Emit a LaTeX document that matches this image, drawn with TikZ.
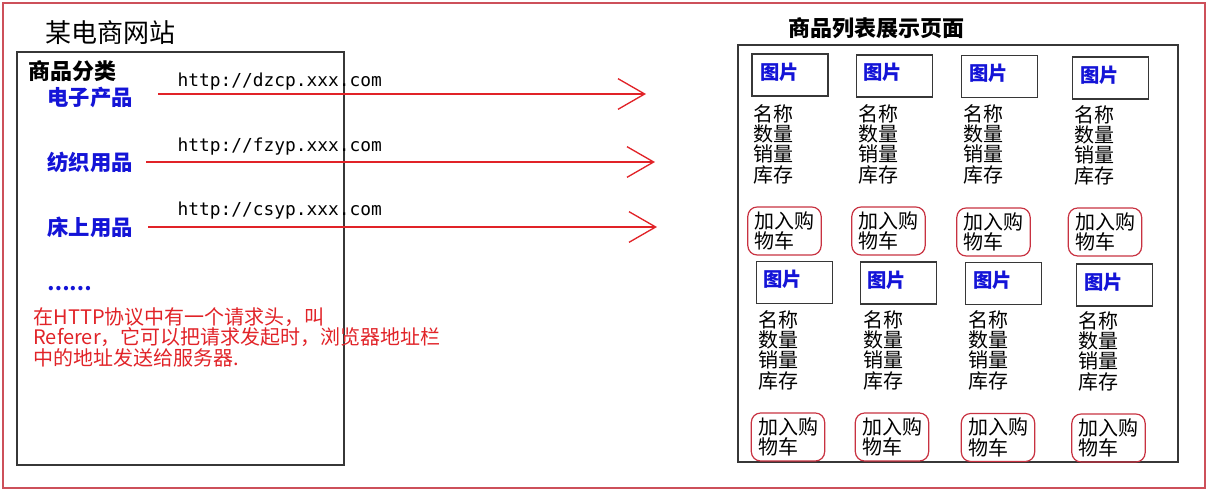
\documentclass[tikz,border=0pt]{standalone}
\usepackage{fontspec}
\setmainfont{Noto Sans CJK SC}
\newfontfamily\urlfont{DejaVu Sans Mono}
\usetikzlibrary{arrows.meta}
\definecolor{framered}{RGB}{205,80,90}
\definecolor{arrowred}{RGB}{225,35,40}
\definecolor{catblue}{RGB}{20,20,215}
\definecolor{boxgray}{RGB}{55,55,55}
\definecolor{cartred}{RGB}{200,50,65}
\tikzset{every picture/.style={line width=0.75pt}}
\tikzset{
  catlabel/.style={text=catblue, font=\fontsize{16}{18}\selectfont\bfseries, inner sep=0pt, anchor=west},
  urllabel/.style={font=\urlfont\fontsize{13.4}{15}\selectfont, inner sep=0pt, anchor=west},
  linkarrow/.style={draw=arrowred, line width=1pt, -{Straight Barb[length=20pt,width=23pt]}},
  picbox/.style={draw=boxgray, line width=1.2pt, minimum width=57pt, minimum height=31.5pt, inner sep=0pt},
  pictext/.style={text=catblue, font=\fontsize{14.5}{16}\selectfont\bfseries, inner sep=0pt, anchor=west},
  infotext/.style={font=\fontsize{15}{15.2}\selectfont, align=left, inner sep=0pt, anchor=north west},
  cartbtn/.style={draw=cartred, line width=0.9pt, rounded corners=7pt, minimum width=55pt, minimum height=36pt, font=\fontsize{15}{15.5}\selectfont, align=left, inner sep=2pt},
}

\begin{document}
\begin{tikzpicture}[x=0.75pt,y=0.75pt,yscale=-1,xscale=1]
\useasboundingbox (0,0) rectangle (1208,491);

%Shape: Rectangle [outer frame]
\draw [framered, line width=1.5pt] (3,3) rectangle (1205,488);

% Text Node
\node [font=\fontsize{19.5}{21}\selectfont, anchor=west, inner sep=0pt] (site) at (45,33) {某电商网站};
%Shape: Rectangle [site page]
\draw [boxgray, line width=1.2pt] (17,52) rectangle (344,465);

% Text Node
\node [font=\fontsize{16.5}{18}\selectfont\bfseries, anchor=west, inner sep=0pt] (catalog) at (28,71) {商品分类};
% Text Node
\node [catlabel] (cat1) at (47,97) {电子产品};
\node [catlabel] (cat2) at (47,162) {纺织用品};
\node [catlabel] (cat3) at (47,227) {床上用品};
% Text Node
\node [urllabel] (url1) at (177,82) {http://dzcp.xxx.com};
\node [urllabel] (url2) at (177,147) {http://fzyp.xxx.com};
\node [urllabel] (url3) at (177,211) {http://csyp.xxx.com};

%Straight Lines
\coordinate (tip1) at (646,94);
\coordinate (tip2) at (655,162);
\coordinate (tip3) at (657,227);
\draw [linkarrow] ([xshift=18.75pt]cat1.east |- tip1) -- (tip1);
\draw [linkarrow] ([xshift=9.75pt]cat2.east |- tip2) -- (tip2);
\draw [linkarrow] ([xshift=11.25pt]cat3.east |- tip3) -- (tip3);

% Text Node
\node [text=catblue, font=\fontsize{15}{15}\selectfont\bfseries, anchor=west, inner sep=0pt] (more) at (47,289) {……};
% Text Node
\node [text=arrowred, font=\fontsize{15}{15.4}\selectfont, align=left, anchor=north west, inner sep=0pt] (note) at (33,307) {在HTTP协议中有一个请求头，叫\\Referer，它可以把请求发起时，浏览器地址栏\\中的地址发送给服务器.};

% Text Node
\node [font=\fontsize{16.5}{18}\selectfont\bfseries, anchor=west, inner sep=0pt] (listtitle) at (788,28) {商品列表展示页面};
%Shape: Rectangle [list page]
\draw [boxgray, line width=1.2pt] (738,45) rectangle (1178,462);

%Row 1
\node [picbox] (pic11) at (790,75) {};
\node [picbox] (pic12) at (894.5,76) {};
\node [picbox] (pic13) at (999.5,76.5) {};
\node [picbox] (pic14) at (1110.5,78) {};
\node [pictext] (pt11) at (760,72) {图片};
\node [pictext] (pt12) at (863,72) {图片};
\node [pictext] (pt13) at (969,73) {图片};
\node [pictext] (pt14) at (1080,75) {图片};
\node [infotext] (info11) at (753,104) {名称\\数量\\销量\\库存};
\node [infotext] (info12) at (858,104) {名称\\数量\\销量\\库存};
\node [infotext] (info13) at (963,104) {名称\\数量\\销量\\库存};
\node [infotext] (info14) at (1074,105) {名称\\数量\\销量\\库存};
\node [cartbtn] (cart11) at (784.5,231) {加入购\\物车};
\node [cartbtn] (cart12) at (888.5,231) {加入购\\物车};
\node [cartbtn] (cart13) at (993.5,232) {加入购\\物车};
\node [cartbtn] (cart14) at (1105,232) {加入购\\物车};

%Row 2
\node [picbox] (pic21) at (794.5,282.5) {};
\node [picbox] (pic22) at (898.5,283) {};
\node [picbox] (pic23) at (1003.5,283.5) {};
\node [picbox] (pic24) at (1114.5,285) {};
\node [pictext] (pt21) at (763,279) {图片};
\node [pictext] (pt22) at (867,280) {图片};
\node [pictext] (pt23) at (973,280) {图片};
\node [pictext] (pt24) at (1084,282) {图片};
\node [infotext] (info21) at (758,310) {名称\\数量\\销量\\库存};
\node [infotext] (info22) at (863,310) {名称\\数量\\销量\\库存};
\node [infotext] (info23) at (968,310) {名称\\数量\\销量\\库存};
\node [infotext] (info24) at (1078,311) {名称\\数量\\销量\\库存};
\node [cartbtn] (cart21) at (788,437) {加入购\\物车};
\node [cartbtn] (cart22) at (892,437) {加入购\\物车};
\node [cartbtn] (cart23) at (998,437.5) {加入购\\物车};
\node [cartbtn] (cart24) at (1108.5,438) {加入购\\物车};

\end{tikzpicture}
\end{document}
